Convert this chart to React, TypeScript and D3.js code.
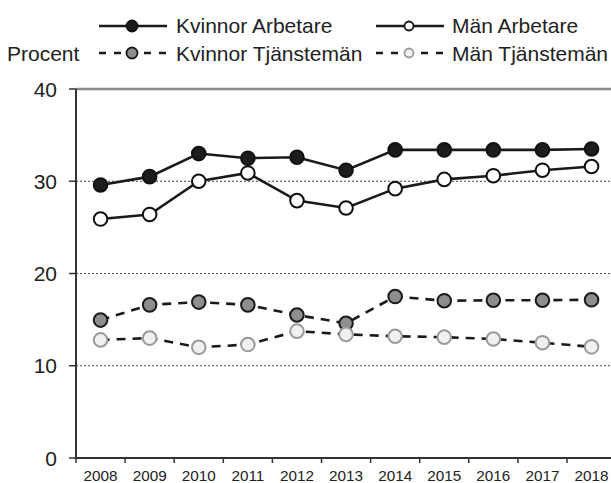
import * as d3 from "d3"

// Years on the x axis
const years = ["2008", "2009", "2010", "2011", "2012", "2013", "2014", "2015", "2016", "2017", "2018"]

// Percent values per series
const kvinnorArbetare = [29.6, 30.5, 33.0, 32.5, 32.6, 31.2, 33.4, 33.4, 33.4, 33.4, 33.5]
const manArbetare = [25.9, 26.4, 30.0, 30.9, 27.9, 27.1, 29.2, 30.2, 30.6, 31.2, 31.6]
const kvinnorTjanstemän = [14.95, 16.6, 16.9, 16.6, 15.5, 14.6, 17.5, 17.05, 17.1, 17.1, 17.15]
const manTjanstemän = [12.8, 13.0, 12.0, 12.3, 13.75, 13.4, 13.2, 13.1, 12.9, 12.5, 12.05]

const yTicks = [0, 10, 20, 30, 40]

const W = 611
const H = 483
const font = "'Liberation Sans', Arial, sans-serif"

type Series = {
  name: string
  values: number[]
  dashed: boolean
  fill: string
  stroke: string
  legendR: number
}

const series: Series[] = [
  { name: "Kvinnor Arbetare", values: kvinnorArbetare, dashed: false, fill: "#1c1c1c", stroke: "#111", legendR: 5.5 },
  { name: "Män Arbetare", values: manArbetare, dashed: false, fill: "#ffffff", stroke: "#111", legendR: 4.5 },
  { name: "Kvinnor Tjänstemän", values: kvinnorTjanstemän, dashed: true, fill: "#8e8e8e", stroke: "#1a1a1a", legendR: 5.5 },
  { name: "Män Tjänstemän", values: manTjanstemän, dashed: true, fill: "#eff0f2", stroke: "#9a9a9a", legendR: 4.5 },
]

export default function App() {
  const left = 76
  const bottom = 458
  const top = 89
  const step = 49.1

  const x = d3.scaleBand().domain(years).range([left, left + step * years.length]).padding(0)
  const y = d3.scaleLinear().domain([0, 40]).range([bottom, top])
  const cx = (yr: string) => (x(yr) || 0) + x.bandwidth() / 2

  const line = d3
    .line<number>()
    .x((_, i) => cx(years[i]))
    .y((d) => y(d))

  // legend layout: two columns, two rows
  const legendPos = [
    { lx: 99, tx: 176, ly: 26, by: 33.3 },
    { lx: 376, tx: 452, ly: 26, by: 33.3 },
    { lx: 99, tx: 176, ly: 53, by: 60.5 },
    { lx: 376, tx: 452, ly: 53, by: 60.5 },
  ]

  return (
    <svg
      width={W}
      height={H}
      style={{ position: "absolute", left: 0, top: 0, background: "#fff" }}
      fontFamily={font}
    >
      {/* gridlines */}
      {yTicks
        .filter((t) => t > 0 && t < 40)
        .map((t) => (
          <line
            key={"g" + t}
            x1={left}
            x2={W}
            y1={y(t)}
            y2={y(t)}
            stroke="#444"
            strokeWidth={1}
            strokeDasharray="2,2"
          />
        ))}

      {/* top frame */}
      <line x1={left} x2={W} y1={top} y2={top} stroke="#8a8a8a" strokeWidth={2.5} />

      {/* y axis */}
      <line x1={left} x2={left} y1={top} y2={bottom} stroke="#333" strokeWidth={2} />
      {yTicks.map((t) => (
        <g key={"y" + t}>
          <line x1={left - 7} x2={left} y1={y(t)} y2={y(t)} stroke="#333" strokeWidth={1.5} />
          <text x={57} y={y(t)} dy="0.36em" textAnchor="end" fontSize={21} fill="#222">
            {t}
          </text>
        </g>
      ))}

      {/* x axis */}
      <line x1={left} x2={W} y1={bottom} y2={bottom} stroke="#333" strokeWidth={2} />
      {years.map((yr) => (
        <g key={"x" + yr}>
          <line x1={x(yr) || 0} x2={x(yr) || 0} y1={bottom} y2={bottom + 5} stroke="#333" strokeWidth={1.5} />
          <text x={cx(yr)} y={480.5} textAnchor="middle" fontSize={15.3} fill="#222">
            {yr}
          </text>
        </g>
      ))}

      {/* series lines */}
      {series.map((s) => (
        <path
          key={"l" + s.name}
          d={line(s.values) || ""}
          fill="none"
          stroke="#1a1a1a"
          strokeWidth={2.6}
          strokeDasharray={s.dashed ? "9,7" : undefined}
        />
      ))}

      {/* markers */}
      {series.map((s) =>
        s.values.map((v, i) => (
          <circle
            key={s.name + i}
            cx={cx(years[i])}
            cy={y(v)}
            r={6.8}
            fill={s.fill}
            stroke={s.stroke}
            strokeWidth={2}
          />
        ))
      )}

      {/* legend */}
      <text x={7} y={60.5} fontSize={21} fill="#222">
        Procent
      </text>
      {series.map((s, i) => {
        const p = legendPos[i]
        return (
          <g key={"lg" + s.name}>
            <line
              x1={p.lx}
              x2={p.lx + 68}
              y1={p.ly}
              y2={p.ly}
              stroke="#1a1a1a"
              strokeWidth={2.4}
              strokeDasharray={s.dashed ? "7,8" : undefined}
            />
            <circle cx={p.lx + 33} cy={p.ly} r={s.legendR} fill={s.fill} stroke={s.stroke} strokeWidth={1.8} />
            <text x={p.tx} y={p.by} fontSize={21} fill="#222">
              {s.name}
            </text>
          </g>
        )
      })}
    </svg>
  )
}
